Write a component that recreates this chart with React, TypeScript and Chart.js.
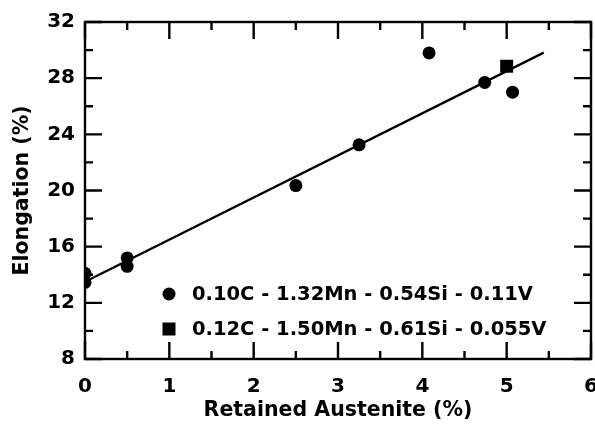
import { useEffect, useRef } from 'react';
import { Chart, registerables } from 'chart.js';
Chart.register(...registerables);

const alloyAX = [0, 0, 0.5, 0.5, 2.5, 3.25, 4.08, 4.74, 5.07];
const alloyAY = [14.1, 13.45, 15.2, 14.6, 20.35, 23.25, 29.8, 27.7, 27.0];
const alloyBX = [5.0];
const alloyBY = [28.85];
const fitX = [0, 5.44];
const fitY = [13.5, 29.82];
const legendLabels = ['0.10C - 1.32Mn - 0.54Si - 0.11V', '0.12C - 1.50Mn - 0.61Si - 0.055V'];
const xTitle = 'Retained Austenite (%)';
const yTitle = 'Elongation (%)';

const FONT = '"DejaVu Sans", "Liberation Sans", Arial, sans-serif';
const FS = 20;

const framePlugin = {
  id: 'frame',
  afterDatasetsDraw(chart: any) {
    const { ctx, chartArea: a, scales } = chart;
    const xs = scales.x, ys = scales.y;
    ctx.save();
    ctx.strokeStyle = '#000';
    ctx.lineWidth = 2.4;
    ctx.lineCap = 'butt';
    ctx.strokeRect(a.left, a.top, a.right - a.left, a.bottom - a.top);
    ctx.beginPath();
    for (let v = xs.min; v <= xs.max + 1e-9; v += 0.5) {
      const px = xs.getPixelForValue(v);
      const len = Math.abs(v - Math.round(v)) < 1e-6 ? 17 : 8;
      ctx.moveTo(px, a.bottom); ctx.lineTo(px, a.bottom - len);
      ctx.moveTo(px, a.top); ctx.lineTo(px, a.top + len);
    }
    for (let v = ys.min; v <= ys.max + 1e-9; v += 2) {
      const py = ys.getPixelForValue(v);
      const len = Math.abs(v / 4 - Math.round(v / 4)) < 1e-6 ? 17 : 8;
      ctx.moveTo(a.left, py); ctx.lineTo(a.left + len, py);
      ctx.moveTo(a.right, py); ctx.lineTo(a.right - len, py);
    }
    ctx.stroke();

    // legend
    const items = [chart.data.datasets[0], chart.data.datasets[1]];
    const lx = a.left + 84;
    const ly0 = a.top + 272;
    const gap = 35;
    ctx.fillStyle = '#000';
    ctx.font = `bold 19.5px ${FONT}`;
    ctx.textBaseline = 'middle';
    ctx.textAlign = 'left';
    items.forEach((ds: any, i: number) => {
      const cy = ly0 + i * gap;
      ctx.beginPath();
      if (ds.pointStyle === 'rect') {
        ctx.rect(lx - 6.5, cy - 6.5, 13, 13);
      } else {
        ctx.arc(lx, cy, 6.5, 0, Math.PI * 2);
      }
      ctx.fill();
      ctx.fillText(ds.label, lx + 23, cy + 1);
    });
    ctx.restore();
  },
};

export default function App() {
  const ref = useRef<HTMLCanvasElement>(null);
  useEffect(() => {
    if (!ref.current) return;
    const chart = new Chart(ref.current, {
      type: 'scatter',
      data: {
        datasets: [
          {
            label: legendLabels[0],
            data: alloyAX.map((x, i) => ({ x, y: alloyAY[i] })),
            pointStyle: 'circle',
            pointRadius: 6.5,
            backgroundColor: '#000',
            borderWidth: 0,
          },
          {
            label: legendLabels[1],
            data: alloyBX.map((x, i) => ({ x, y: alloyBY[i] })),
            pointStyle: 'rect',
            pointRadius: 9.2,
            backgroundColor: '#000',
            borderWidth: 0,
          },
          {
            label: 'fit',
            type: 'line',
            data: fitX.map((x, i) => ({ x, y: fitY[i] })),
            showLine: true,
            pointRadius: 0,
            borderColor: '#000',
            borderWidth: 2.3,
            fill: false,
          },
        ],
      } as any,
      options: {
        animation: false,
        responsive: false,
        maintainAspectRatio: false,
        layout: { autoPadding: false, padding: { top: 22, right: 4, left: 0, bottom: 0 } },
        plugins: { legend: { display: false }, tooltip: { enabled: false } },
        scales: {
          x: {
            type: 'linear',
            min: 0,
            max: 6,
            ticks: { stepSize: 1, color: '#000', font: { family: FONT, size: FS, weight: 'bold' }, padding: 16, maxRotation: 0 },
            grid: { display: false, drawTicks: false },
            border: { display: false },
            title: { display: true, text: xTitle, color: '#000', font: { family: FONT, size: 20.5, weight: 'bold' }, padding: { top: 0, bottom: 2 } },
            afterFit: (s: any) => { s.height = 66; s.paddingLeft = 0; s.paddingRight = 0; },
          },
          y: {
            type: 'linear',
            min: 8,
            max: 32,
            ticks: { stepSize: 4, color: '#000', font: { family: FONT, size: FS, weight: 'bold' }, padding: 10 },
            grid: { display: false, drawTicks: false },
            border: { display: false },
            title: { display: true, text: yTitle, color: '#000', font: { family: FONT, size: 20.5, weight: 'bold' }, padding: { top: 10, bottom: 0 } },
            afterFit: (s: any) => { s.width = 85; s.paddingTop = 0; s.paddingBottom = 0; },
          },
        },
      } as any,
      plugins: [framePlugin],
    });
    return () => chart.destroy();
  }, []);
  return (
    <div style={{ position: 'fixed', left: 0, top: 0, width: 595, height: 425, background: '#fff' }}>
      <canvas ref={ref} width={595} height={425} style={{ width: 595, height: 425 }} />
    </div>
  );
}
